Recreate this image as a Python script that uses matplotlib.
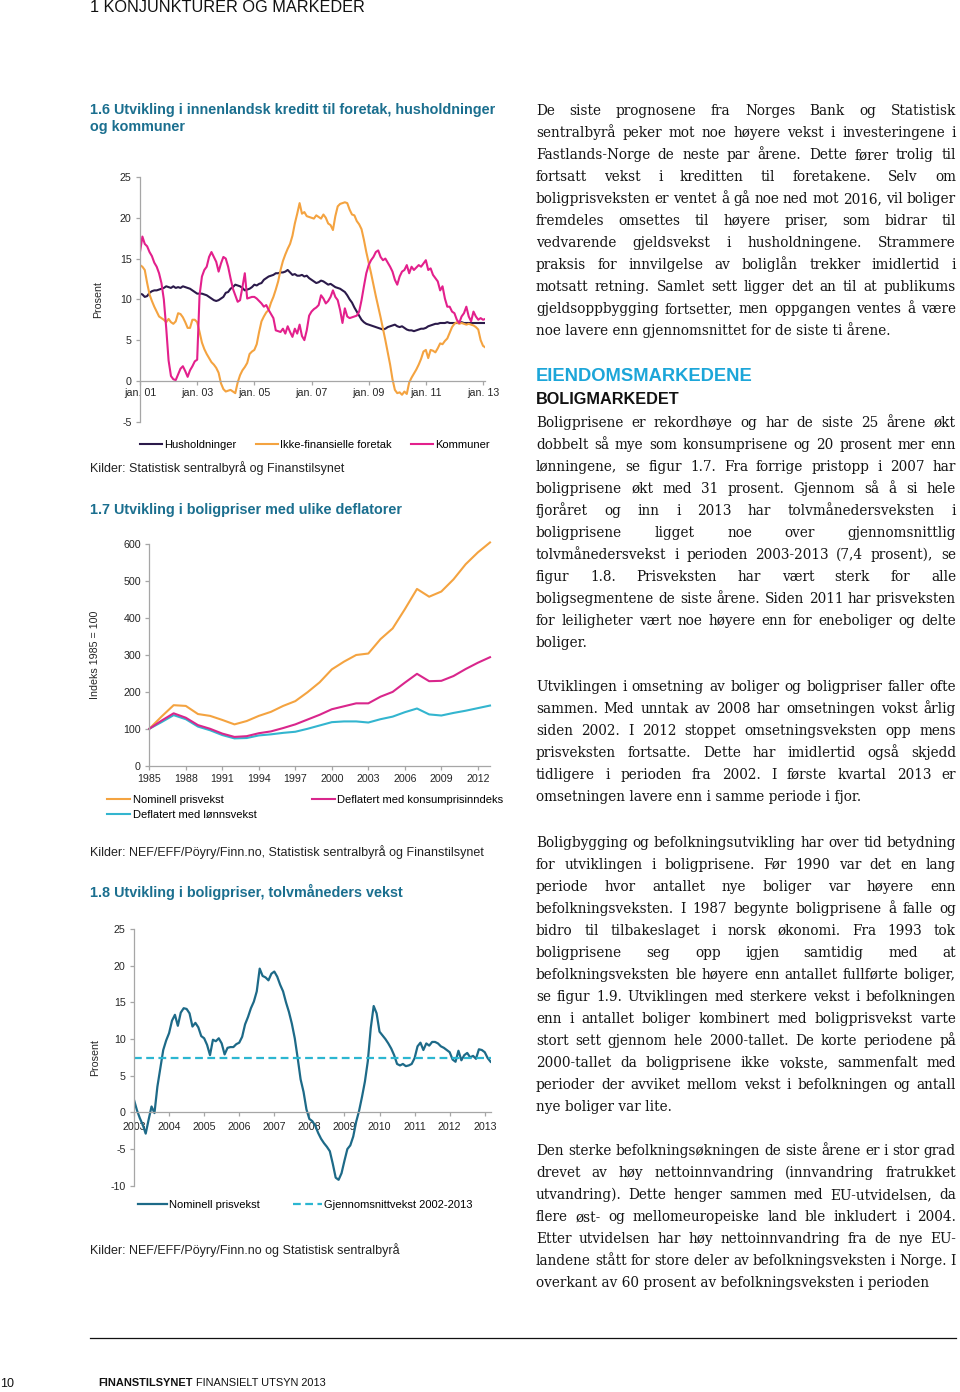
import matplotlib.pyplot as plt
from matplotlib.lines import Line2D

plt.rcParams["font.family"] = "Liberation Sans"
plt.rcParams["axes.unicode_minus"] = False

W_PX, H_PX = 960, 1392

# --------------------------------------------------------------
# Data
# --------------------------------------------------------------

# 1.6 credit growth, twelve-month, monthly jan 2001 - feb 2013 (percent)
credit_ticks = ["jan. 01", "jan. 03", "jan. 05", "jan. 07", "jan. 09", "jan. 11", "jan. 13"]
households = [
    10.7, 10.6, 10.3, 10.4, 10.8, 11.0, 11.1, 11.1, 11.2, 11.3, 11.4, 11.6,
    11.5, 11.4, 11.6, 11.4, 11.5, 11.4, 11.6, 11.5, 11.4, 11.3, 11.1, 10.9,
    10.7, 10.7, 10.7, 10.6, 10.5, 10.3, 10.1, 9.9, 9.8, 9.9, 10.1, 10.3,
    10.8, 10.9, 11.3, 11.5, 11.8, 11.7, 11.6, 11.4, 11.1, 11.2, 11.3, 11.5,
    11.8, 11.7, 11.9, 12.0, 12.4, 12.6, 12.8, 12.9, 13.0, 13.2, 13.2, 13.3,
    13.3, 13.4, 13.6, 13.3, 13.0, 13.1, 12.9, 12.9, 13.0, 12.8, 12.9, 12.6,
    12.4, 12.2, 12.0, 12.1, 12.3, 12.2, 12.0, 11.8, 11.9, 11.7, 11.5, 11.4,
    11.3, 11.1, 10.9, 10.5, 10.0, 9.6, 9.0, 8.5, 8.0, 7.5, 7.2, 7.0,
    6.9, 6.8, 6.7, 6.6, 6.5, 6.4, 6.3, 6.4, 6.6, 6.7, 6.8, 6.9,
    6.7, 6.6, 6.7, 6.5, 6.3, 6.2, 6.2, 6.1, 6.2, 6.3, 6.4, 6.4,
    6.5, 6.7, 6.8, 6.9, 7.0, 7.0, 7.1, 7.1, 7.1, 7.2, 7.1, 7.1,
    7.1, 7.1, 7.1, 7.2, 7.1, 7.1, 7.1, 7.1, 7.1, 7.1, 7.1, 7.1,
    7.1, 7.1,
]
nonfin_firms = [
    14.2, 14.0, 13.6, 12.0, 10.6, 9.8, 9.1, 8.5, 7.9, 7.7, 7.5, 7.2,
    7.6, 7.2, 7.0, 7.3, 8.3, 8.2, 7.8, 7.2, 6.5, 6.5, 7.5, 7.5,
    7.2, 6.0, 4.7, 3.9, 3.3, 2.8, 2.3, 2.0, 1.6, 1.0, -0.3, -1.0,
    -1.3, -1.2, -1.1, -1.3, -1.5, -0.2, 0.7, 1.3, 1.7, 2.2, 3.3, 3.6,
    3.8, 4.5, 6.0, 7.3, 7.9, 8.4, 8.7, 9.6, 10.3, 11.2, 12.2, 13.6,
    14.7, 15.5, 16.2, 16.8, 17.8, 19.3, 20.5, 21.8, 20.5, 20.7, 20.2, 20.1,
    20.0, 19.9, 20.3, 20.1, 19.9, 20.4, 20.0, 19.3, 19.1, 18.5, 20.2, 21.4,
    21.7, 21.8, 21.9, 21.8, 21.0, 20.4, 20.3, 19.6, 19.2, 18.6, 17.3, 15.8,
    14.5, 13.2, 11.8, 10.4, 9.1, 7.8, 6.4, 5.0, 3.5, 2.0, 0.2, -1.1,
    -1.5, -1.4, -1.7, -1.3, -1.6, -0.2, 0.4, 0.9, 1.4, 2.0, 2.7, 3.6,
    3.8, 2.8, 3.8, 3.7, 3.5, 4.0, 4.6, 4.5, 4.9, 5.2, 5.9, 6.6,
    7.0, 7.2, 7.0, 7.1, 7.0, 6.9, 7.0, 6.9, 6.8, 6.6, 6.3, 5.0,
    4.3, 4.1,
]
municipalities = [
    15.8, 17.7, 16.8, 16.5, 15.8, 15.3, 14.5, 14.0, 13.2, 12.0, 10.0, 6.5,
    2.5, 0.6, 0.2, 0.1, 0.8, 1.5, 1.8, 1.2, 0.5, 1.3, 1.8, 2.4,
    2.6, 10.5, 12.8, 13.6, 14.0, 15.2, 15.8, 15.2, 14.6, 13.4, 14.4, 15.2,
    15.0, 14.0, 12.6, 11.3, 10.5, 9.7, 9.9, 11.5, 13.2, 10.1, 10.2, 10.3,
    10.3, 10.1, 9.8, 9.5, 9.1, 9.3, 8.7, 8.2, 7.7, 6.2, 6.1, 6.0,
    6.4, 5.8, 6.7, 6.0, 5.4, 6.4, 5.8, 6.9, 5.5, 5.0, 6.2, 8.0,
    8.5, 8.8, 9.0, 9.3, 10.5, 10.1, 9.5, 9.8, 10.3, 11.1, 10.3, 9.9,
    8.7, 7.1, 8.9, 7.9, 7.7, 7.8, 7.9, 8.0, 8.5, 9.9, 11.6, 13.2,
    14.2, 14.8, 15.2, 15.8, 16.0, 15.2, 14.8, 15.0, 14.5, 14.0, 13.4, 12.4,
    11.8, 12.8, 13.4, 13.6, 14.2, 13.2, 14.0, 13.6, 13.9, 14.2, 14.0, 14.4,
    14.8, 13.6, 13.8, 13.0, 12.6, 12.2, 11.1, 11.6, 10.1, 9.1, 9.1, 8.5,
    8.3, 7.5, 7.1, 7.9, 8.3, 9.1, 7.9, 7.3, 8.5, 7.9, 7.5, 7.7,
    7.5, 7.6,
]

# 1.7 house prices, index 1985 = 100
price_years = list(range(1985, 2014))
nominal_index = [100, 133, 164, 162, 140, 135, 124, 112, 121, 135, 146, 162, 175, 199, 226,
                 261, 282, 300, 304, 343, 372, 424, 479, 458, 472, 505, 546, 578, 605]
cpi_deflated = [100, 122, 142, 130, 110, 100, 87, 78, 80, 88, 93, 102, 112, 125, 138,
                153, 161, 169, 169, 187, 200, 225, 249, 229, 230, 243, 262, 279, 294]
wage_deflated = [100, 118, 137, 126, 106, 96, 83, 74, 75, 82, 85, 89, 92, 100, 109,
                 118, 120, 120, 117, 126, 133, 145, 155, 139, 136, 143, 149, 156, 163]

# 1.8 house prices, twelve-month growth, monthly jan 2003 - mar 2013 (percent)
growth_ticks = [str(y) for y in range(2003, 2014)]
nominal_growth = [
    1.7, 0.3, -0.8, -1.7, -2.9, -1.0, 0.8, -0.1, 3.5, 6.0, 8.5, 9.8,
    10.8, 12.5, 13.3, 11.8, 13.6, 14.2, 14.1, 13.5, 11.7, 12.2, 11.6, 10.4,
    10.1, 9.2, 7.8, 9.9, 9.7, 10.1, 9.4, 7.9, 8.8, 8.9, 8.9, 9.3,
    9.5, 10.3, 12.0, 13.0, 14.2, 15.1, 16.5, 19.6, 18.6, 18.4, 18.0, 18.9,
    19.2, 18.5, 17.4, 16.5, 15.0, 13.7, 12.1, 10.1, 7.4, 4.5, 2.8, 0.4,
    -0.9, -1.2, -1.8, -2.8, -3.6, -4.2, -4.7, -5.3, -7.0, -8.9, -9.2, -8.3,
    -6.6, -5.0, -4.5, -3.3, -1.3, 0.2, 2.1, 4.2, 7.0, 11.5, 14.5, 13.5,
    11.0, 10.5, 10.0, 9.4, 8.7, 7.8, 6.6, 6.4, 6.6, 6.3, 6.4, 6.6,
    7.4, 9.0, 9.5, 8.5, 9.4, 9.1, 9.6, 9.6, 9.4, 9.0, 8.8, 8.5,
    8.2, 7.2, 6.9, 8.4, 7.1, 7.8, 8.1, 7.5, 7.7, 7.3, 8.6, 8.5,
    8.2, 7.4, 6.9,
]
avg_growth = 7.4

# --------------------------------------------------------------
# Page text
# --------------------------------------------------------------

par_1 = [
    "De siste prognosene fra Norges Bank og Statistisk",
    "sentralbyrå peker mot noe høyere vekst i investeringene i",
    "Fastlands-Norge de neste par årene. Dette fører trolig til",
    "fortsatt vekst i kreditten til foretakene. Selv om",
    "boligprisveksten er ventet å gå noe ned mot 2016, vil boliger",
    "fremdeles omsettes til høyere priser, som bidrar til",
    "vedvarende gjeldsvekst i husholdningene. Strammere",
    "praksis for innvilgelse av boliglån trekker imidlertid i",
    "motsatt retning. Samlet sett ligger det an til at publikums",
    "gjeldsoppbygging fortsetter, men oppgangen ventes å være",
    "noe lavere enn gjennomsnittet for de siste ti årene.",
]
par_2 = [
    "Boligprisene er rekordhøye og har de siste 25 årene økt",
    "dobbelt så mye som konsumprisene og 20 prosent mer enn",
    "lønningene, se figur 1.7. Fra forrige pristopp i 2007 har",
    "boligprisene økt med 31 prosent. Gjennom så å si hele",
    "fjoråret og inn i 2013 har tolvmånedersveksten i",
    "boligprisene ligget noe over gjennomsnittlig",
    "tolvmånedersvekst i perioden 2003-2013 (7,4 prosent), se",
    "figur 1.8. Prisveksten har vært sterk for alle",
    "boligsegmentene de siste årene. Siden 2011 har prisveksten",
    "for leiligheter vært noe høyere enn for eneboliger og delte",
    "boliger.",
]
par_3 = [
    "Utviklingen i omsetning av boliger og boligpriser faller ofte",
    "sammen. Med unntak av 2008 har omsetningen vokst årlig",
    "siden 2002. I 2012 stoppet omsetningsveksten opp mens",
    "prisveksten fortsatte. Dette har imidlertid også skjedd",
    "tidligere i perioden fra 2002. I første kvartal 2013 er",
    "omsetningen lavere enn i samme periode i fjor.",
]
par_4 = [
    "Boligbygging og befolkningsutvikling har over tid betydning",
    "for utviklingen i boligprisene. Før 1990 var det en lang",
    "periode hvor antallet nye boliger var høyere enn",
    "befolkningsveksten. I 1987 begynte boligprisene å falle og",
    "bidro til tilbakeslaget i norsk økonomi. Fra 1993 tok",
    "boligprisene seg opp igjen samtidig med at",
    "befolkningsveksten ble høyere enn antallet fullførte boliger,",
    "se figur 1.9. Utviklingen med sterkere vekst i befolkningen",
    "enn i antallet boliger kombinert med boligprisvekst varte",
    "stort sett gjennom hele 2000-tallet. De korte periodene på",
    "2000-tallet da boligprisene ikke vokste, sammenfalt med",
    "perioder der avviket mellom vekst i befolkningen og antall",
    "nye boliger var lite.",
]
par_5 = [
    "Den sterke befolkningsøkningen de siste årene er i stor grad",
    "drevet av høy nettoinnvandring (innvandring fratrukket",
    "utvandring). Dette henger sammen med EU-utvidelsen, da",
    "flere øst- og mellomeuropeiske land ble inkludert i 2004.",
    "Etter utvidelsen har høy nettoinnvandring fra de nye EU-",
    "landene stått for store deler av befolkningsveksten i Norge. I",
    "overkant av 60 prosent av befolkningsveksten i perioden",
]

# --------------------------------------------------------------
# Helpers
# --------------------------------------------------------------

HEAD_BLUE = "#1b6f8f"
AXIS_GREY = "#a6a6a6"
BODY = dict(family="DejaVu Serif", size=9.8, color="#151515", va="baseline")

fig = plt.figure(figsize=(W_PX / 100, H_PX / 100), dpi=100)
renderer = fig.canvas.get_renderer()


def fx(x):
    return x / W_PX


def fy(y):
    return 1 - y / H_PX


def text_width(s, **kw):
    t = fig.text(0, 0, s, **kw)
    w = t.get_window_extent(renderer=renderer).width
    t.remove()
    return w


def add_axes(left, top, right, bottom):
    ax = fig.add_axes([fx(left), fy(bottom), (right - left) / W_PX, (bottom - top) / H_PX])
    for s in ["top", "right"]:
        ax.spines[s].set_visible(False)
    for s in ["left", "bottom"]:
        ax.spines[s].set_color(AXIS_GREY)
        ax.spines[s].set_linewidth(0.9)
    ax.tick_params(labelsize=7.7, labelcolor="#262626", color=AXIS_GREY,
                   length=3, width=0.9, pad=3)
    ax.patch.set_alpha(0)
    return ax


def paragraph(lines, y0, x0=536, width=420, step=22):
    for i, line in enumerate(lines):
        y = fy(y0 + i * step + 3.5)
        words = line.split(" ")
        if i == len(lines) - 1 or len(words) == 1:
            fig.text(fx(x0), y, line, **BODY)
            continue
        widths = [text_width(w, **BODY) for w in words]
        gap = (width - sum(widths)) / (len(words) - 1)
        x = x0
        for w, wd in zip(words, widths):
            fig.text(fx(x), y, w, **BODY)
            x += wd + gap


def legend(ax, x, y, **kw):
    ax.legend(loc="center left", bbox_to_anchor=(fx(x), fy(y)),
              bbox_transform=fig.transFigure, frameon=False, fontsize=8,
              borderpad=0, borderaxespad=0, handletextpad=0.2, **kw)


# --------------------------------------------------------------
# Page header and left column captions
# --------------------------------------------------------------

fig.text(fx(90), fy(12), "1 KONJUNKTURER OG MARKEDER", size=11.7, va="baseline", color="#111111")

cap = dict(size=10.4, weight="bold", color=HEAD_BLUE, va="center")
fig.text(fx(90), fy(110), "1.6 Utvikling i innenlandsk kreditt til foretak, husholdninger", **cap)
fig.text(fx(90), fy(127), "og kommuner", **cap)
fig.text(fx(90), fy(510), "1.7 Utvikling i boligpriser med ulike deflatorer", **cap)
fig.text(fx(90), fy(892), "1.8 Utvikling i boligpriser, tolvmåneders vekst", **cap)

src = dict(size=9, color="#222222", va="center")
fig.text(fx(90), fy(468), "Kilder: Statistisk sentralbyrå og Finanstilsynet", **src)
fig.text(fx(90), fy(852), "Kilder: NEF/EFF/Pöyry/Finn.no, Statistisk sentralbyrå og Finanstilsynet", **src)
fig.text(fx(90), fy(1250), "Kilder: NEF/EFF/Pöyry/Finn.no og Statistisk sentralbyrå", **src)

# --------------------------------------------------------------
# 1.6 Credit growth
# --------------------------------------------------------------

ax1 = add_axes(140, 177, 485.4, 421.7)
months = range(len(households))
ax1.plot(months, households, color="#2b1a4a", lw=1.5, label="Husholdninger")
ax1.plot(months, nonfin_firms, color="#f4a340", lw=1.5, label="Ikke-finansielle foretak")
ax1.plot(months, municipalities, color="#e3208c", lw=1.5, label="Kommuner")
ax1.set_xlim(0, len(households) - 1)
ax1.set_ylim(-5, 25)
ax1.set_yticks(range(-5, 26, 5))
ax1.set_xticks(range(0, len(households), 24))
ax1.set_xticklabels(credit_ticks)
ax1.spines["bottom"].set_position(("data", 0))
ax1.tick_params(axis="x", pad=2)
ax1.set_ylabel("Prosent", fontsize=7.7, color="#262626")
ax1.yaxis.set_label_coords((103 - 140) / 345.4, 0.5)
legend(ax1, 140, 445, ncol=3, handlelength=2.0, columnspacing=1.7)

# --------------------------------------------------------------
# 1.7 House prices with deflators
# --------------------------------------------------------------

ax2 = add_axes(149.3, 544.3, 490, 765.7)
ax2.plot(price_years, nominal_index, color="#f4a340", lw=1.5, clip_on=False, label="Nominell prisvekst")
ax2.plot(price_years, wage_deflated, color="#33b5cf", lw=1.5, clip_on=False, label="Deflatert med lønnsvekst")
ax2.plot(price_years, cpi_deflated, color="#d9268c", lw=1.5, clip_on=False,
         label="Deflatert med konsumprisinndeks")
ax2.set_xlim(price_years[0], price_years[-1])
ax2.set_ylim(0, 600)
ax2.set_yticks(range(0, 601, 100))
ax2.set_xticks(price_years[:-1:3])
ax2.set_ylabel("Indeks 1985 = 100", fontsize=7.7, color="#262626")
ax2.yaxis.set_label_coords((100 - 149.3) / 340.7, 0.5)
legend(ax2, 107, 807.5, ncol=2, handlelength=2.1, columnspacing=5.0, labelspacing=0.4)

# --------------------------------------------------------------
# 1.8 House price growth
# --------------------------------------------------------------

ax3 = add_axes(134, 929, 490.6, 1185.7)
gmonths = range(len(nominal_growth))
ax3.plot(gmonths, nominal_growth, color="#1d6a88", lw=1.6, label="Nominell prisvekst")
ax3.axhline(avg_growth, color="#2bb6d1", lw=1.6, ls=(0, (3.5, 2)), label="Gjennomsnittvekst 2002-2013")
ax3.set_xlim(0, len(nominal_growth) - 1)
ax3.set_ylim(-10, 25)
ax3.set_yticks(range(-10, 26, 5))
ax3.set_xticks(range(0, len(nominal_growth), 12))
ax3.set_xticklabels(growth_ticks)
ax3.spines["bottom"].set_position(("data", 0))
ax3.tick_params(axis="x", pad=4)
ax3.set_ylabel("Prosent", fontsize=7.7, color="#262626")
ax3.yaxis.set_label_coords((100 - 134) / 356.6, 0.5)
legend(ax3, 138, 1205, ncol=2, handlelength=2.6, columnspacing=3.0)

# --------------------------------------------------------------
# Right column text
# --------------------------------------------------------------

paragraph(par_1, 111.7)
fig.text(fx(536), fy(377), "EIENDOMSMARKEDENE", size=13.2, weight="bold", color="#1ca6d9", va="center")
fig.text(fx(536), fy(400), "BOLIGMARKEDET", size=11.7, weight="bold", color="#111111", va="center")
paragraph(par_2, 423.3)
paragraph(par_3, 687.3)
paragraph(par_4, 843.3)
paragraph(par_5, 1151.7)

# --------------------------------------------------------------
# Footer
# --------------------------------------------------------------

fig.add_artist(Line2D([fx(90), fx(956)], [fy(1338), fy(1338)], color="#111111", lw=0.9,
                      transform=fig.transFigure))
fig.text(fx(0), fy(1384), "10", size=9, va="center", color="#111111")
foot = dict(size=7.9, va="center", color="#111111")
fig.text(fx(98), fy(1383), "FINANSTILSYNET", weight="bold", **foot)
bold_w = text_width("FINANSTILSYNET ", weight="bold", **foot)
fig.text(fx(98 + bold_w), fy(1383), "FINANSIELT UTSYN 2013", **foot)

fig.savefig("out.png", dpi=100)
